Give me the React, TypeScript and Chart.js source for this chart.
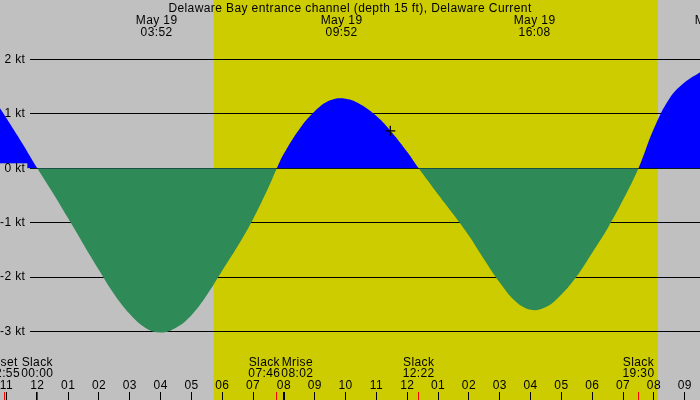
import React, { useEffect, useRef } from "react";
import { Chart, registerables } from "chart.js";

Chart.register(...registerables);

const title = "Delaware Bay entrance channel (depth 15 ft), Delaware Current";

// hours after midnight of May 19, current speed in knots (+ flood, - ebb)
const hours = [
  -1.25, -1, -0.5, 0, 0.5, 1, 1.5, 2, 2.5, 3, 3.5, 4, 4.5, 5, 5.5, 6, 6.5, 7, 7.5, 7.77,
  8, 8.5, 9, 9.5, 10, 10.5, 11, 11.5, 12, 12.37, 13, 13.5, 14, 14.5, 15, 15.5, 16,
  16.5, 17, 17.5, 18, 18.5, 19, 19.5, 20, 20.5, 21, 21.5,
];
const speed = [
  1.14, 0.92, 0.47, 0, -0.45, -0.92, -1.4, -1.87, -2.32, -2.68, -2.93, -3.02, -2.93, -2.7,
  -2.33, -1.88, -1.43, -0.93, -0.35, 0, 0.27, 0.72, 1.05, 1.25, 1.28, 1.17, 0.96, 0.66, 0.3,
  0, -0.48, -0.85, -1.24, -1.68, -2.1, -2.44, -2.6, -2.55, -2.32, -1.98, -1.55, -1.1,
  -0.58, 0, 0.73, 1.28, 1.58, 1.77,
];

// maximum flood / ebb labels along the top
const peakHours = [3.87, 9.87, 16.13, 22.0];
const peakDates = ["May 19", "May 19", "May 19", "May 19"];
const peakTimes = ["03:52", "09:52", "16:08", "22:00"];

// slack water and moon events along the bottom
const eventHours = [-1.08, 0, 7.77, 8.03, 12.37, 19.5];
const eventNames = ["Mset", "Slack", "Slack", "Mrise", "Slack", "Slack"];
const eventTimes = ["22:55", "00:00", "07:46", "08:02", "12:22", "19:30"];

const sunrise = 5.72;
const sunset = 20.13;
const nowHour = 11.45;
const nowSpeed = 0.69;

const yTicks = [-3, -2, -1, 0, 1, 2];

const NIGHT = "#c0c0c0";
const DAY = "#cccc00";
const FLOOD = "#0000ff";
const EBB = "#2e8b57";
const FAMILY = "'Liberation Sans', Arial, sans-serif";
const FONT = `12px ${FAMILY}`;

const clockLabel = (v: number) => {
  const h = ((Math.round(v) % 12) + 12) % 12;
  return String(h === 0 ? 12 : h).padStart(2, "0");
};

// no room reserved for the first/last labels, the axes sit on the plot
const noPadding = (s: any) => {
  s.paddingLeft = 0;
  s.paddingRight = 0;
  s.paddingTop = 0;
  s.paddingBottom = 0;
};

const tidePlugin = {
  id: "tideDecor",
  beforeDraw(chart: any) {
    const { ctx, width, height } = chart;
    const x = chart.scales.x;
    ctx.letterSpacing = "0.4px";
    ctx.save();
    ctx.fillStyle = NIGHT;
    ctx.fillRect(0, 0, width, height);
    const x0 = x.getPixelForValue(sunrise);
    const x1 = x.getPixelForValue(sunset);
    ctx.fillStyle = DAY;
    ctx.fillRect(x0, 0, x1 - x0, height);
    ctx.restore();
  },
  beforeDatasetsDraw(chart: any) {
    const { ctx, chartArea } = chart;
    const y = chart.scales.y;
    ctx.save();
    ctx.strokeStyle = "#000";
    ctx.lineWidth = 1;
    ctx.beginPath();
    yTicks.forEach((v) => {
      const py = Math.floor(y.getPixelForValue(v)) + 0.5;
      ctx.moveTo(30, py);
      ctx.lineTo(chartArea.right, py);
    });
    ctx.stroke();
    ctx.restore();
  },
  afterDraw(chart: any) {
    const { ctx, width, height } = chart;
    const x = chart.scales.x;
    ctx.save();
    ctx.font = FONT;
    ctx.fillStyle = "#000";
    ctx.textAlign = "center";
    ctx.textBaseline = "alphabetic";
    ctx.fillText(title, width / 2, 11.7);

    peakHours.forEach((h, i) => {
      const px = x.getPixelForValue(h);
      ctx.fillText(peakDates[i], px, 24);
      ctx.fillText(peakTimes[i], px, 36);
    });

    // event marks on the time axis
    eventHours.forEach((h, i) => {
      const px = Math.floor(x.getPixelForValue(h)) + 0.5;
      ctx.strokeStyle = eventNames[i] === "Mrise" ? "#000" : "#ff0000";
      ctx.lineWidth = 1;
      ctx.beginPath();
      ctx.moveTo(px, height - 8);
      ctx.lineTo(px, height);
      ctx.stroke();
    });

    // event labels, pushed apart where they would overlap
    const boxes = eventHours.map((h, i) => {
      const w = Math.max(ctx.measureText(eventNames[i]).width, ctx.measureText(eventTimes[i]).width);
      return { c: x.getPixelForValue(h), w };
    });
    for (let i = 1; i < boxes.length; i++) {
      const a = boxes[i - 1];
      const b = boxes[i];
      const overlap = a.c + a.w / 2 + 1 - (b.c - b.w / 2);
      if (overlap > 0) {
        a.c -= overlap / 2;
        b.c += overlap / 2;
      }
    }
    boxes.forEach((b, i) => {
      ctx.fillText(eventNames[i], b.c, 366);
      ctx.fillText(eventTimes[i], b.c, 377.3);
    });
    ctx.restore();
  },
};

export default function App() {
  const canvasRef = useRef<HTMLCanvasElement>(null);

  useEffect(() => {
    if (!canvasRef.current) return;
    const chart = new Chart(canvasRef.current, {
      type: "line",
      data: {
        datasets: [
          {
            label: "now",
            data: [{ x: nowHour, y: nowSpeed }],
            showLine: false,
            pointStyle: "cross",
            pointRadius: 5,
            borderColor: "#000",
            borderWidth: 1.3,
            order: 0,
          },
          {
            label: "Current",
            data: hours.map((h, i) => ({ x: h, y: speed[i] })),
            borderColor: "rgba(0,0,0,0)",
            borderWidth: 0,
            pointRadius: 0,
            tension: 0.4,
            fill: { target: "origin", above: FLOOD, below: EBB },
            order: 1,
          },
        ],
      },
      options: {
        animation: false,
        responsive: true,
        maintainAspectRatio: false,
        layout: { padding: 0, autoPadding: false },
        plugins: {
          legend: { display: false },
          tooltip: { enabled: false },
        },
        scales: {
          x: {
            type: "linear",
            min: -1.21,
            max: 21.495,
            afterFit: noPadding,
            ticks: {
              stepSize: 1,
              includeBounds: false,
              autoSkip: false,
              maxRotation: 0,
              mirror: true,
              padding: 0,
              color: "#000",
              font: { family: FAMILY, size: 12, lineHeight: 1.1 },
              callback: (v: any) => clockLabel(Number(v)),
            },
            grid: {
              drawOnChartArea: false,
              drawTicks: true,
              tickLength: 8,
              color: "#000",
              lineWidth: (c: any) => (c.tick && c.tick.value === 0 ? 2 : 1),
            },
            border: { display: false },
          },
          y: {
            type: "linear",
            min: -4.112,
            max: 3.094,
            afterBuildTicks: (s: any) => {
              s.ticks = yTicks.map((v) => ({ value: v }));
            },
            afterFit: (s: any) => {
              s.width = 0;
              noPadding(s);
            },
            ticks: {
              mirror: true,
              crossAlign: "far",
              padding: 2,
              z: 1,
              color: "#000",
              font: { family: FAMILY, size: 12, lineHeight: 1 },
              showLabelBackdrop: (c: any) => !!c.tick && c.tick.value === 0,
              backdropColor: NIGHT,
              backdropPadding: { top: -1, bottom: -1, left: 7, right: 2 },
              callback: (v: any) => `${v} kt`,
            },
            grid: { display: false, drawTicks: false },
            border: { display: false },
          },
        },
      },
      plugins: [tidePlugin],
    });

    return () => {
      chart.destroy();
    };
  }, []);

  return (
    <div style={{ position: "fixed", left: 0, top: 0, width: 700, height: 400 }}>
      <canvas ref={canvasRef} />
    </div>
  );
}
